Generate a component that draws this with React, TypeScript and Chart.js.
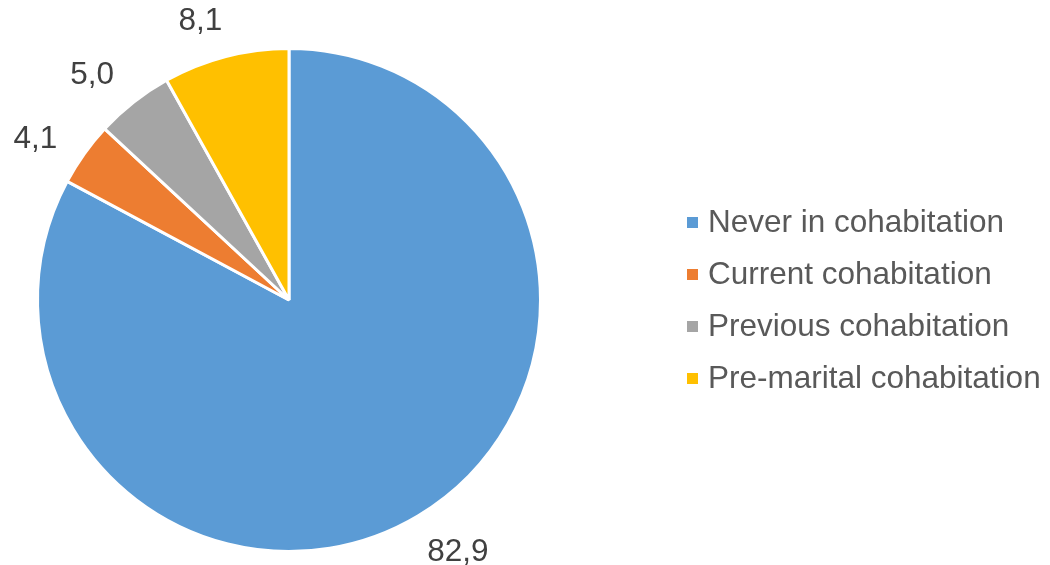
import React, { useEffect, useRef } from "react";
import { Chart, registerables } from "chart.js";

Chart.register(...registerables);

const categories = [
  "Never in cohabitation",
  "Current cohabitation",
  "Previous cohabitation",
  "Pre-marital cohabitation",
];
const values = [82.9, 4.1, 5.0, 8.1];
const valueLabels = ["82,9", "4,1", "5,0", "8,1"];
const colors = ["#5B9BD5", "#ED7D31", "#A5A5A5", "#FFC000"];

const FONT = "'Liberation Sans', Arial, sans-serif";

const labelPlugin = {
  id: "outsideLabels",
  afterDatasetsDraw(chart: any) {
    const ctx = chart.ctx;
    const meta = chart.getDatasetMeta(0);
    ctx.save();
    ctx.font = `31.5px ${FONT}`;
    ctx.fillStyle = "#404040";
    ctx.textAlign = "center";
    ctx.textBaseline = "middle";
    meta.data.forEach((arc: any, i: number) => {
      const { x, y, startAngle, endAngle, outerRadius } = arc.getProps(
        ["x", "y", "startAngle", "endAngle", "outerRadius"],
        true
      );
      const mid = (startAngle + endAngle) / 2 - (3 * Math.PI) / 180;
      const w = ctx.measureText(valueLabels[i]).width;
      const h = 22;
      const cx = Math.cos(mid);
      const sy = Math.sin(mid);
      const half = Math.abs(cx) * (w / 2) + Math.abs(sy) * (h / 2);
      const d = outerRadius + 25 + half;
      ctx.fillText(valueLabels[i], x + cx * d, y + sy * d + 1);
    });
    ctx.restore();
  },
};

const legendPlugin = {
  id: "customLegend",
  afterDraw(chart: any) {
    const ctx = chart.ctx;
    ctx.save();
    ctx.font = `31.5px ${FONT}`;
    ctx.textBaseline = "middle";
    ctx.textAlign = "left";
    const x0 = 687;
    const y0 = 222.5;
    const step = 52;
    categories.forEach((c, i) => {
      const yc = y0 + i * step;
      ctx.fillStyle = colors[i];
      ctx.fillRect(x0, yc - 5.5, 11, 11);
      ctx.fillStyle = "#595959";
      ctx.fillText(c, x0 + 21, yc + 1);
    });
    ctx.restore();
  },
};

export default function App() {
  const ref = useRef<HTMLCanvasElement | null>(null);
  useEffect(() => {
    if (!ref.current) return;
    const chart = new Chart(ref.current, {
      type: "pie",
      data: {
        labels: categories,
        datasets: [
          {
            data: values,
            backgroundColor: colors,
            borderColor: "#FFFFFF",
            borderWidth: 3,
          },
        ],
      },
      options: {
        responsive: false,
        animation: false,
        layout: { padding: { left: 36, right: 508, top: 47, bottom: 12 } },
        plugins: {
          legend: { display: false },
          tooltip: { enabled: false },
        },
      },
      plugins: [labelPlugin, legendPlugin],
    });
    return () => chart.destroy();
  }, []);
  return (
    <div style={{ position: "absolute", left: 0, top: 0, width: 1050, height: 565, background: "#fff" }}>
      <canvas ref={ref} width={1050} height={565} />
    </div>
  );
}
